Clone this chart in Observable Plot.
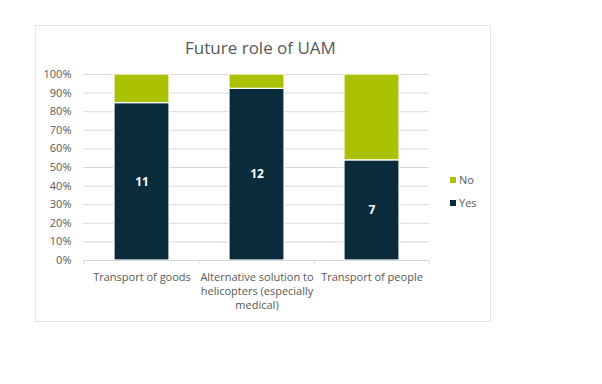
<!DOCTYPE html>
<html>
<head>
<meta charset="utf-8">
<script src="https://cdn.jsdelivr.net/npm/d3@7"></script>
<script src="https://cdn.jsdelivr.net/npm/@observablehq/plot@0.6"></script>
<style>
  html, body { margin: 0; padding: 0; background: #fff; }
  #chart svg { display: block; }
</style>
</head>
<body>
<div id="chart"></div>
<script>
const title = "Future role of UAM";
const categories = ["Transport of goods", "Alternative solution to helicopters (especially medical)", "Transport of people"];
const categoryLabels = ["Transport of goods", "Alternative solution to\nhelicopters (especially\nmedical)", "Transport of people"];
const seriesNames = ["Yes", "No"];
const yesCounts = [11, 12, 7];
const noCounts = [2, 1, 6];
const yTicks = [0, 0.1, 0.2, 0.3, 0.4, 0.5, 0.6, 0.7, 0.8, 0.9, 1];
const colors = ["#0a2b3b", "#a9c100"];

const rows = [];
categories.forEach((c, i) => rows.push({category: c, series: "Yes", value: yesCounts[i]}));
categories.forEach((c, i) => rows.push({category: c, series: "No", value: noCounts[i]}));

const font = "'Open Sans', 'Noto Sans', sans-serif";
const textColor = "#595959";

const plot = Plot.plot({
  width: 602,
  height: 384,
  marginLeft: 83,
  marginRight: 173,
  marginTop: 74,
  marginBottom: 124,
  style: {fontFamily: font, fontSize: "11px", color: textColor, background: "#fff"},
  x: {domain: categories, padding: 0, label: null},
  y: {domain: [0, 1], label: null},
  color: {domain: seriesNames, range: colors},
  marks: [
    Plot.gridY(yTicks, {stroke: "#d9d9d9", strokeOpacity: 1, strokeWidth: 1}),
    Plot.axisY({ticks: yTicks, tickSize: 0, tickPadding: 12, tickFormat: d3.format(".0%"), fill: textColor, fontSize: 11}),
    Plot.axisX({tickSize: 0, tickPadding: 10, tickFormat: (d, i) => categoryLabels[categories.indexOf(d)], fill: textColor, fontSize: 11, lineHeight: 1.3}),
    Plot.barY(rows, Plot.stackY({x: "category", y: "value", fill: "series", z: "series", offset: "normalize", insetLeft: 30, insetRight: 30, stroke: "#fff", strokeWidth: 1.2})),
    Plot.text(rows, Plot.stackY({x: "category", y: "value", z: "series", offset: "normalize", text: d => d.series === "Yes" ? String(d.value) : "", fill: "#fff", fontWeight: "bold", fontSize: 12})),
    Plot.ruleY([0], {stroke: "#d9d9d9"}),
    Plot.text([title], {frameAnchor: "top", dy: -26, dx: 4, lineAnchor: "middle", fontSize: 17, fill: textColor})
  ]
});

const svg = d3.select(plot);
// chart-area border
svg.insert("rect", ":first-child")
  .attr("x", 35.5).attr("y", 25.5).attr("width", 455).attr("height", 296)
  .attr("fill", "#fff").attr("stroke", "#e4e4e4");

// category boundary ticks on the x axis
const xs = plot.scale("x");
const ys = plot.scale("y");
const step = xs.bandwidth;
const bounds = [xs.apply(categories[0])].concat(categories.map(c => xs.apply(c) + step));
svg.append("g").selectAll("line").data(bounds).join("line")
  .attr("x1", d => d).attr("x2", d => d)
  .attr("y1", ys.apply(0)).attr("y2", ys.apply(0) + 4)
  .attr("stroke", "#d9d9d9");

// legend (No above Yes)
const legendItems = ["No", "Yes"];
const lg = svg.append("g").attr("font-family", font).attr("font-size", 11)
  .attr("fill", textColor).attr("text-anchor", "start");
legendItems.forEach((name, i) => {
  const cy = 180 + i * 23;
  lg.append("rect").attr("x", 450).attr("y", cy - 3).attr("width", 6).attr("height", 6)
    .attr("fill", plot.scale("color").apply(name));
  lg.append("text").attr("x", 459).attr("y", cy).attr("dy", "0.35em")
    .attr("text-anchor", "start").text(name);
});

document.getElementById("chart").appendChild(plot);
</script>
</body>
</html>
